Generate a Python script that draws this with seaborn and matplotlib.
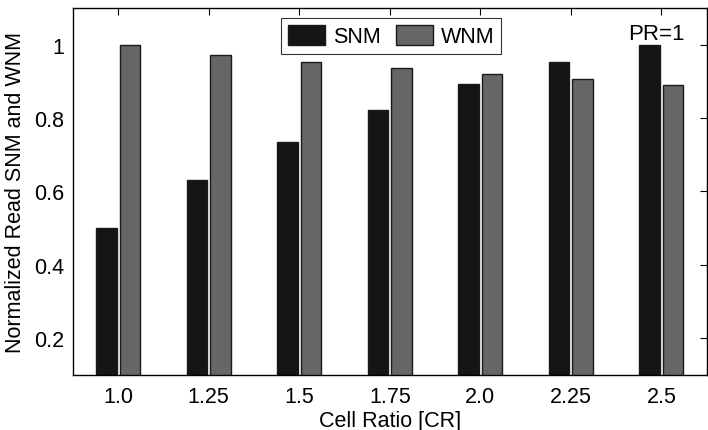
import matplotlib
matplotlib.use("Agg")
import matplotlib.pyplot as plt
import seaborn as sns
import pandas as pd

categories = ["1.0", "1.25", "1.5", "1.75", "2.0", "2.25", "2.5"]
snm = [0.50, 0.63, 0.735, 0.822, 0.893, 0.952, 1.0]
wnm = [1.0, 0.972, 0.953, 0.937, 0.921, 0.906, 0.890]
yticks = [0.2, 0.4, 0.6, 0.8, 1.0]
yticklabels = ["0.2", "0.4", "0.6", "0.8", "1"]

sns.set_theme(style="white")
plt.rcParams["font.family"] = ["Liberation Sans", "DejaVu Sans"]
plt.rcParams["text.color"] = "black"
plt.rcParams["axes.labelcolor"] = "black"

df = pd.DataFrame({
    "CR": categories * 2,
    "value": snm + wnm,
    "metric": ["SNM"] * len(categories) + ["WNM"] * len(categories),
})

FS = 15.5
fig = plt.figure(figsize=(7.08, 4.31), dpi=100)
ax = fig.add_axes([0.103, 0.128, 0.895, 0.851])
sns.barplot(data=df, x="CR", y="value", hue="metric", order=categories,
            palette={"SNM": "#151515", "WNM": "#666666"},
            width=0.52, gap=0.12, edgecolor="#1a1a1a", linewidth=1.0,
            ax=ax, legend=True)

ax.set_ylim(0.1, 1.1)
ax.set_xlim(-0.5, 6.5)
ax.set_yticks(yticks)
ax.set_yticklabels(yticklabels)
ax.tick_params(axis="both", direction="in", length=5, width=0.8, labelsize=FS,
               top=True, right=True, colors="black", labelcolor="black", pad=8)
ax.tick_params(axis="y", pad=6)
for s in ax.spines.values():
    s.set_color("black")
    s.set_linewidth(1.0)
ax.set_xlabel("Cell Ratio [CR]", fontsize=FS, labelpad=2)
ax.set_ylabel("Normalized Read SNM and WNM", fontsize=FS, labelpad=6)

leg = ax.legend(loc="upper center", bbox_to_anchor=(0.502, 0.972), ncol=2,
                fontsize=FS, frameon=True, fancybox=False, edgecolor="black",
                handlelength=1.75, handleheight=1.1, columnspacing=0.7,
                borderpad=0.3, handletextpad=0.35, borderaxespad=0.0, title=None)
leg.get_frame().set_linewidth(0.8)
for t in leg.get_texts():
    t.set_color("black")

ax.text(0.921, 0.958, "PR=1", transform=ax.transAxes, fontsize=FS + 0.5,
        ha="center", va="top")

fig.savefig("out.png", dpi=100)
